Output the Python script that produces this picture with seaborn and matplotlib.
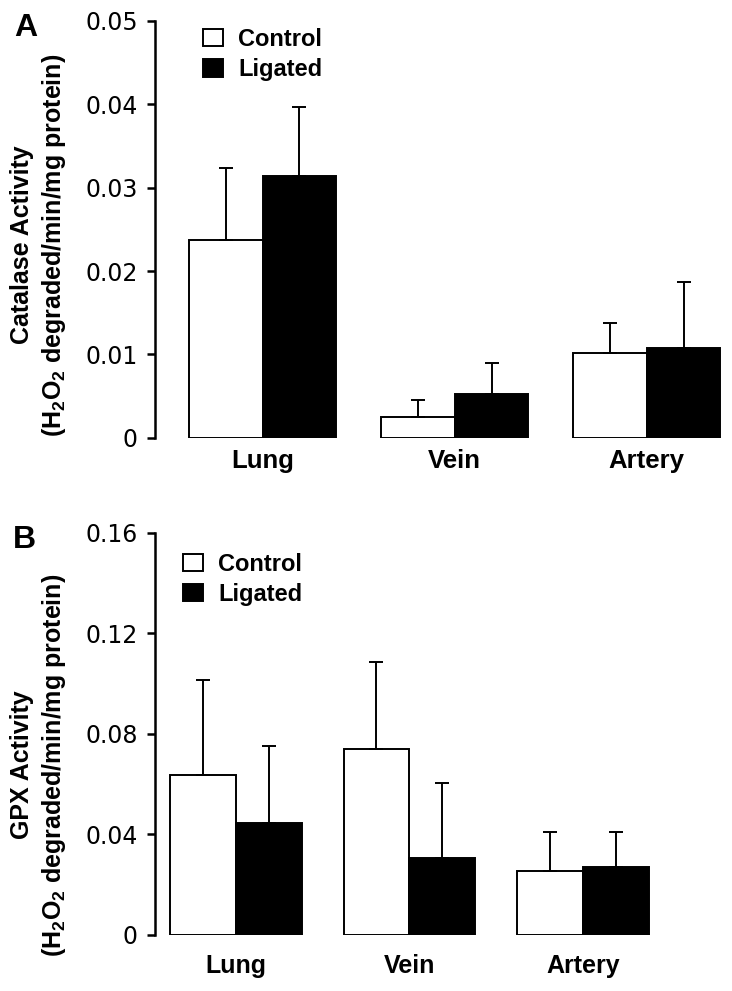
import matplotlib
matplotlib.use("Agg")
import matplotlib.pyplot as plt
import seaborn as sns
import pandas as pd

# data
tissues = ["Lung", "Vein", "Artery"]
groups = ["Control", "Ligated"]

catalase_control = [0.0237, 0.0025, 0.0102]
catalase_control_err = [0.0087, 0.0020, 0.0036]
catalase_ligated = [0.0314, 0.0053, 0.0108]
catalase_ligated_err = [0.0083, 0.0037, 0.0079]

gpx_control = [0.0638, 0.0739, 0.0253]
gpx_control_err = [0.0376, 0.0348, 0.0156]
gpx_ligated = [0.0447, 0.0305, 0.0269]
gpx_ligated_err = [0.0305, 0.0298, 0.0140]

catalase_ticks = [0, 0.01, 0.02, 0.03, 0.04, 0.05]
catalase_ticklabels = ["0", "0.01", "0.02", "0.03", "0.04", "0.05"]
gpx_ticks = [0, 0.04, 0.08, 0.12, 0.16]
gpx_ticklabels = ["0", "0.04", "0.08", "0.12", "0.16"]

sns.set_style("white")
plt.rcParams["font.family"] = ["Liberation Sans", "DejaVu Sans"]
plt.rcParams["mathtext.default"] = "regular"
plt.rcParams["text.color"] = "black"
plt.rcParams["axes.labelcolor"] = "black"
plt.rcParams["xtick.color"] = "black"
plt.rcParams["ytick.color"] = "black"

W, H = 732, 991
fig = plt.figure(figsize=(W / 100, H / 100), dpi=100)


def px_axes(left, top, right, bottom):
    return fig.add_axes([left / W, 1 - bottom / H, (right - left) / W, (bottom - top) / H])


def draw_panel(ax, control, control_err, ligated, ligated_err, ticks, ticklabels,
               xlim, bar_width, label_size, label_pad, legend_anchor):
    df = pd.DataFrame({
        "tissue": tissues * 2,
        "group": [groups[0]] * 3 + [groups[1]] * 3,
        "value": control + ligated,
    })
    sns.barplot(data=df, x="tissue", y="value", hue="group", order=tissues,
                hue_order=groups, palette=["white", "black"], edgecolor="black",
                linewidth=1.4, errorbar=None, width=bar_width, legend=False,
                saturation=1, ax=ax)
    # upper error bars only, centred on each bar
    for cont, err in zip(ax.containers, [control_err, ligated_err]):
        xs = [p.get_x() + p.get_width() / 2 for p in cont.patches]
        ys = [p.get_height() for p in cont.patches]
        ax.errorbar(xs, ys, yerr=[[0] * len(err), err], fmt="none", ecolor="black",
                    elinewidth=1.4, capsize=4.8, capthick=1.4, zorder=1)
    ax.set_xlim(*xlim)
    ax.set_ylim(ticks[0], ticks[-1])
    ax.set_yticks(ticks)
    ax.set_yticklabels(ticklabels, fontfamily="DejaVu Sans", fontsize=17)
    ax.tick_params(axis="y", direction="out", length=6, width=1.8, pad=6.5,
                   left=True, color="black", labelcolor="black")
    ax.tick_params(axis="x", length=0, pad=label_pad, labelcolor="black")
    for lab in ax.get_xticklabels():
        lab.set_fontweight("bold")
        lab.set_fontsize(label_size)
    ax.set_xlabel("")
    ax.set_ylabel("")
    sns.despine(ax=ax, bottom=True)
    ax.spines["left"].set_linewidth(1.8)
    ax.spines["left"].set_color("black")
    ax.legend(ax.containers, groups, loc="upper left", bbox_to_anchor=legend_anchor,
              frameon=False, prop={"weight": "bold", "size": 17},
              handlelength=0.85, handleheight=0.75, handletextpad=0.65,
              labelspacing=0.3, borderpad=0, borderaxespad=0)


# panel A: catalase
ax_a = px_axes(155, 21, 732, 437.7)
draw_panel(ax_a, catalase_control, catalase_control_err, catalase_ligated,
           catalase_ligated_err, catalase_ticks, catalase_ticklabels,
           (-0.56, 2.445), 0.77, 18.5, 8, (0.083, 0.983))

# panel B: GPX
ax_b = px_axes(155, 532.7, 732, 935)
draw_panel(ax_b, gpx_control, gpx_control_err, gpx_ligated, gpx_ligated_err,
           gpx_ticks, gpx_ticklabels, (-0.467, 2.86), 0.76, 18, 14, (0.0485, 0.95))

fig.text(39 / W, 1 - 245 / H,
         "Catalase Activity\n(H$_2$O$_2$ degraded/min/mg protein)",
         rotation=90, ha="center", va="center", ma="center", fontsize=18,
         fontweight="bold", linespacing=1.25)
fig.text(39 / W, 1 - 765 / H,
         "GPX Activity\n(H$_2$O$_2$ degraded/min/mg protein)",
         rotation=90, ha="center", va="center", ma="center", fontsize=18,
         fontweight="bold", linespacing=1.25)

fig.text(26 / W, 1 - 28.5 / H, "A", ha="center", va="center", fontsize=23,
         fontweight="bold")
fig.text(24 / W, 1 - 540 / H, "B", ha="center", va="center", fontsize=23,
         fontweight="bold")

fig.savefig("out.png", dpi=100, facecolor="white")
